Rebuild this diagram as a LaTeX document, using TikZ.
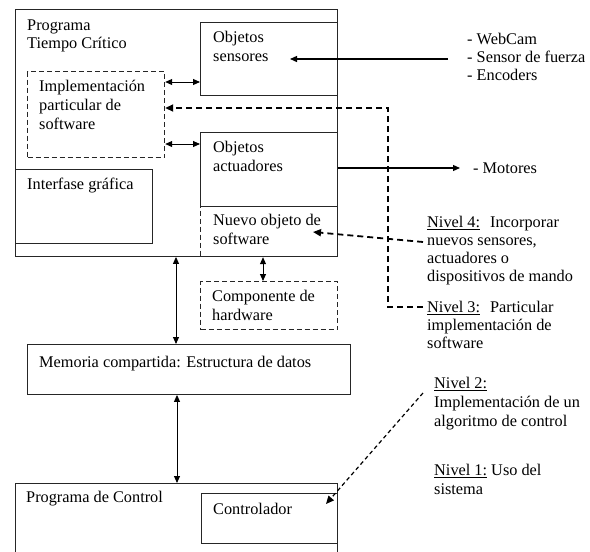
\documentclass[tikz,border=0pt]{standalone}
\usepackage{fontspec}
\setmainfont{Liberation Serif}
\usetikzlibrary{arrows.meta}
\begin{document}
\begin{tikzpicture}[x=1pt,y=-1pt,
  box/.style={draw=black!85, line width=0.9pt, inner sep=0pt, anchor=north west},
  dbox/.style={box, dash pattern=on 5pt off 3pt, line width=1.2pt},
  txt/.style={anchor=north west, inner sep=0pt, align=left, font=\fontsize{16.3}{19}\selectfont},
  otxt/.style={anchor=north west, inner sep=0pt, align=left, font=\fontsize{16.3}{18}\selectfont},
  arr/.style={line width=0.9pt, -{Triangle[length=7pt,width=6pt]}},
  darr/.style={line width=0.9pt, {Triangle[length=7pt,width=6pt]}-{Triangle[length=7pt,width=6pt]}},
  dsh/.style={line width=1.8pt, dash pattern=on 6pt off 4pt, -{Triangle[length=8pt,width=7pt]}},
  dsh2/.style={line width=1.2pt, dash pattern=on 4pt off 3pt, -{Triangle[length=8pt,width=7pt]}},
]
\useasboundingbox (0,0) rectangle (590,552);
\clip (0,0) rectangle (590,552);

% boxes
\node[dbox, minimum width=137pt, minimum height=50pt] (nuevo) at (200,206) {};
\node[box, minimum width=322pt, minimum height=247pt] (ptc) at (15,9) {};
\node[box, minimum width=137pt, minimum height=73pt] (sens) at (200,22) {};
\node[dbox, minimum width=137pt, minimum height=86pt] (impl) at (27,71) {};
\node[box, minimum width=137pt, minimum height=74pt] (act) at (200,132) {};
\node[box, minimum width=137pt, minimum height=74pt] (gui) at (15,169) {};
\node[dbox, minimum width=137pt, minimum height=48pt] (comp) at (200,281) {};
\node[box, minimum width=323pt, minimum height=50pt] (mem) at (27,344) {};
\node[box, minimum width=322pt, minimum height=100pt] (pc) at (15,483) {};
\node[box, minimum width=136pt, minimum height=50pt] (ctrl) at (201,493) {};

% box texts
\node[otxt] (tptc) at (27,17.4) {\strut Programa\\Tiempo Crítico};
\node[txt] (tsens) at (213,28.7) {\strut Objetos\\sensores};
\node[txt] (timpl) at (39,77.7) {\strut Implementación\\particular de\\software};
\node[txt] (tact) at (213,138.7) {\strut Objetos\\actuadores};
\node[txt] (tgui) at (27,175.7) {\strut Interfase gráfica};
\node[txt] (tnuevo) at (213,211.7) {\strut Nuevo objeto de\\software};
\node[txt] (tcomp) at (212,287.7) {\strut Componente de\\hardware};
\node[txt] (tmem) at (39,353.7) {\strut Memoria compartida: Estructura de datos};
\node[txt] (tpc) at (26,488.7) {\strut Programa de Control};
\node[txt] (tctrl) at (213,500.7) {\strut Controlador};

% outside texts
\node[otxt] (tin) at (467,31.4) {\strut - WebCam\\- Sensor de fuerza\\- Encoders};
\node[otxt] (tmot) at (473,160.4) {\strut - Motores};
\node[otxt] (n4) at (427,214.4) {\strut\underline{Nivel 4:}\hspace{10pt}Incorporar\\nuevos sensores,\\actuadores o\\dispositivos de mando};
\node[otxt] (n3) at (427,299.4) {\strut\underline{Nivel 3:}\hspace{10pt}Particular\\implementación de\\software};
\node[txt] (n2) at (434,374.7) {\strut\underline{Nivel 2:}\\Implementación de un\\algoritmo de control};
\node[txt] (n1) at (434,461.7) {\strut\underline{Nivel 1:} Uso del\\sistema};

% helper coordinates
\coordinate (y82) at (0,82);
\coordinate (y144) at (0,144);
\coordinate (y168) at (0,168);
\coordinate (x263) at (263,0);
\coordinate (x176) at (176,0);
\coordinate (x177) at (177,0);
\coordinate (sin) at (448,59);
\coordinate (sinend) at (290,59);
\coordinate (mot) at (460,168);
\coordinate (n3a) at (423,307);
\coordinate (n3b) at (388,307);
\coordinate (n3c) at (388,108);
\coordinate (n4a) at (423,242);
\coordinate (n4b) at (313,232);
\coordinate (n2a) at (423,393);
\coordinate (n2b) at (326,504);

% connectors
\draw[arr, line width=1.3pt] (sin) -- (sinend);
\draw[darr] (impl.east |- y82) -- (sens.west |- y82);
\draw[darr] (impl.east |- y144) -- (act.west |- y144);
\draw[arr, line width=1.2pt] (act.east |- y168) -- (mot);
\draw[dsh] (n3a) -- (n3b) -- (n3c) -- (impl.east |- n3c);
\draw[dsh] (n4a) -- (n4b);
\draw[darr] (nuevo.south -| x263) -- (comp.north -| x263);
\draw[darr] (ptc.south -| x176) -- (mem.north -| x176);
\draw[darr] (mem.south -| x177) -- (pc.north -| x177);
\draw[dsh2] (n2a) -- (n2b);
\end{tikzpicture}
\end{document}
